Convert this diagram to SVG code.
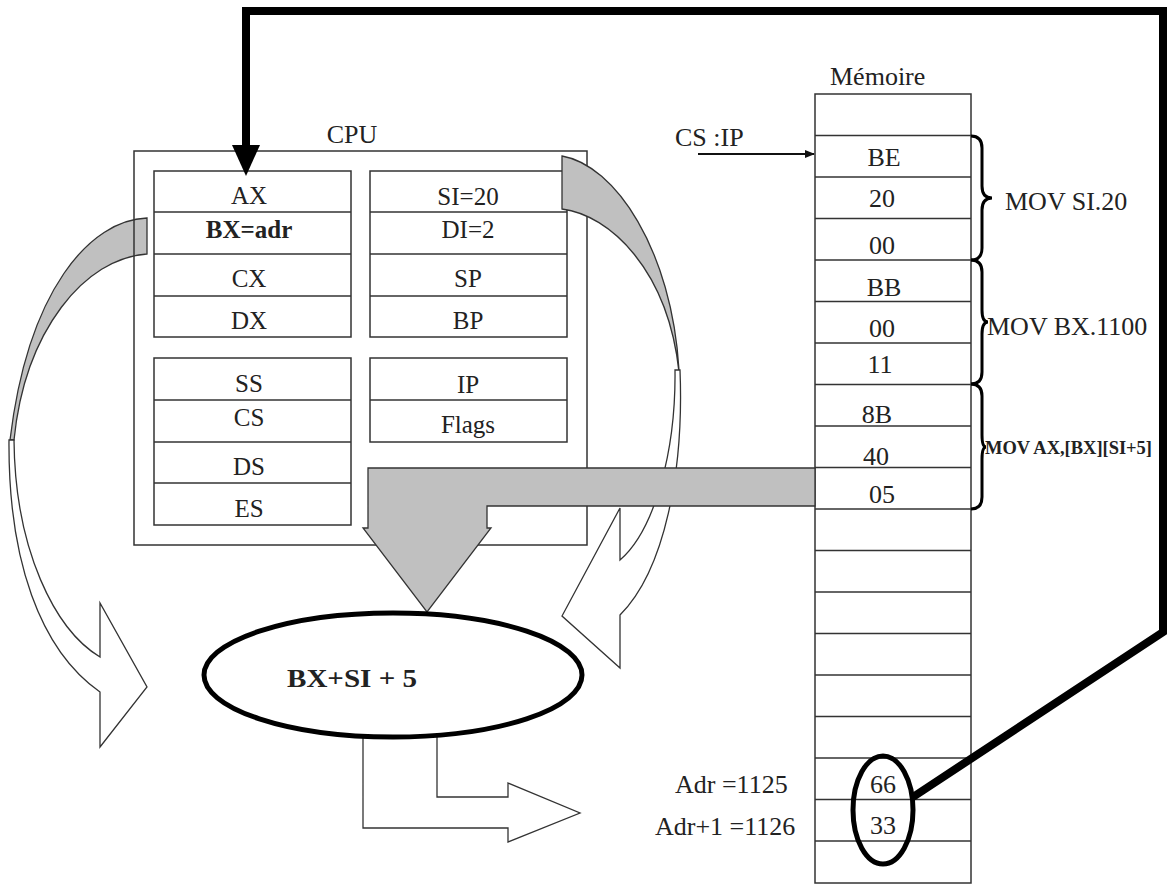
<svg xmlns="http://www.w3.org/2000/svg" width="1170" height="885" viewBox="0 0 1170 885">
<style>
text{font-family:"Liberation Serif","Times New Roman",serif;font-size:26px;fill:#222}
.r{font-size:25px}
.c{text-anchor:middle}
.b{font-weight:bold}
.box{fill:none;stroke:#333;stroke-width:1.5}
.cell{fill:#fff;stroke:#333;stroke-width:1.5}
.gray{fill:#c0c0c0;stroke:#333;stroke-width:1.3}
.wh{fill:#fff;stroke:#333;stroke-width:1.3}
.thick{fill:none;stroke:#000;stroke-width:8;stroke-linejoin:miter}
.brace{fill:none;stroke:#000;stroke-width:3}
</style>
<defs>
<marker id="ah" markerWidth="10" markerHeight="8" refX="9" refY="4" orient="auto" markerUnits="userSpaceOnUse">
<path d="M0,0 L10,4 L0,8 Z" fill="#111"/>
</marker>
</defs>
<rect width="1170" height="885" fill="#fff"/>

<g id="curved-left">
<path class="gray" d="M147,218 C90,220 28,290 10,440 L14,440 C25,330 85,258 147,254 Z"/>
<path class="wh" d="M9,440 C8,560 40,650 100,692 L100,747 L147,687 L100,603 L100,657 C55,630 15,550 14,440 Z"/>
</g>

<g id="cpu">
<rect class="box" x="134" y="151" width="453" height="394"/>
<text class="c" x="352" y="143">CPU</text>
<g id="reg-left-1">
<rect class="cell" x="154" y="171" width="197" height="166"/>
<line class="box" x1="154" y1="212" x2="351" y2="212"/>
<line class="box" x1="154" y1="254" x2="351" y2="254"/>
<line class="box" x1="154" y1="296" x2="351" y2="296"/>
<text class="c r" x="249" y="204">AX</text>
<text class="c r b" x="249" y="238">BX=adr</text>
<text class="c r" x="249" y="287">CX</text>
<text class="c r" x="249" y="329">DX</text>
</g>
<g id="reg-right-1">
<rect class="cell" x="370" y="171" width="197" height="166"/>
<line class="box" x1="370" y1="212" x2="567" y2="212"/>
<line class="box" x1="370" y1="254" x2="567" y2="254"/>
<line class="box" x1="370" y1="296" x2="567" y2="296"/>
<text class="c r" x="468" y="205">SI=20</text>
<text class="c r" x="468" y="238">DI=2</text>
<text class="c r" x="468" y="287">SP</text>
<text class="c r" x="468" y="329">BP</text>
</g>
<g id="reg-left-2">
<rect class="cell" x="154" y="358" width="197" height="167"/>
<line class="box" x1="154" y1="400" x2="351" y2="400"/>
<line class="box" x1="154" y1="442" x2="351" y2="442"/>
<line class="box" x1="154" y1="483" x2="351" y2="483"/>
<text class="c r" x="249" y="392">SS</text>
<text class="c r" x="249" y="426">CS</text>
<text class="c r" x="249" y="475">DS</text>
<text class="c r" x="249" y="517">ES</text>
</g>
<g id="reg-right-2">
<rect class="cell" x="370" y="358" width="197" height="84"/>
<line class="box" x1="370" y1="400" x2="567" y2="400"/>
<text class="c r" x="468" y="393">IP</text>
<text class="c r" x="468" y="433">Flags</text>
</g>
</g>

<g id="curved-right">
<path class="gray" d="M562,156 C615,165 672,250 679,370 L679,372 C668,270 610,215 562,209 Z"/>
<path class="wh" d="M680,370 C684,470 665,570 620,615 L620,668 L562,616 L620,508 L620,560 C655,530 676,450 675,370 Z"/>
</g>

<g id="memory">
<text x="830" y="85">Mémoire</text>
<rect class="cell" x="815" y="94" width="156" height="789"/>
<g class="box">
<line x1="815" y1="135.5" x2="971" y2="135.5"/>
<line x1="815" y1="177" x2="971" y2="177"/>
<line x1="815" y1="218.5" x2="971" y2="218.5"/>
<line x1="815" y1="260" x2="971" y2="260"/>
<line x1="815" y1="301.5" x2="971" y2="301.5"/>
<line x1="815" y1="343" x2="971" y2="343"/>
<line x1="815" y1="384.5" x2="971" y2="384.5"/>
<line x1="815" y1="426" x2="971" y2="426"/>
<line x1="815" y1="467.5" x2="971" y2="467.5"/>
<line x1="815" y1="509" x2="971" y2="509"/>
<line x1="815" y1="550.5" x2="971" y2="550.5"/>
<line x1="815" y1="592" x2="971" y2="592"/>
<line x1="815" y1="633.5" x2="971" y2="633.5"/>
<line x1="815" y1="675" x2="971" y2="675"/>
<line x1="815" y1="716.5" x2="971" y2="716.5"/>
<line x1="815" y1="758" x2="971" y2="758"/>
<line x1="815" y1="799.5" x2="971" y2="799.5"/>
<line x1="815" y1="841" x2="971" y2="841"/>
</g>
<text class="c" x="884" y="166">BE</text>
<text class="c" x="882" y="207">20</text>
<text class="c" x="882" y="254">00</text>
<text class="c" x="884" y="296">BB</text>
<text class="c" x="882" y="337">00</text>
<text class="c" x="880" y="373">11</text>
<text class="c" x="877" y="423">8B</text>
<text class="c" x="876" y="465">40</text>
<text class="c" x="882" y="503">05</text>
<text class="c" x="883" y="793">66</text>
<text class="c" x="883" y="834">33</text>
<ellipse cx="883" cy="810" rx="30" ry="54" fill="none" stroke="#000" stroke-width="5"/>
<text x="675" y="793">Adr =1125</text>
<text x="655" y="835">Adr+1 =1126</text>
</g>

<g id="instructions">
<path class="brace" d="M971,136 Q982,136 982,148 L982,186 Q982,198 992,198 Q982,198 982,210 L982,248 Q982,260 971,260"/>
<path class="brace" d="M971,260 Q982,260 982,272 L982,310 Q982,322 988,322 Q982,322 982,334 L982,372 Q982,384 971,384"/>
<path class="brace" d="M971,384 Q982,384 982,396 L982,435 Q982,447 986,447 Q982,447 982,459 L982,497 Q982,509 971,509"/>
<text x="1005" y="210">MOV SI.20</text>
<text x="987" y="335">MOV BX.1100</text>
<text class="b" x="985" y="454" style="font-size:18px" textLength="167" lengthAdjust="spacingAndGlyphs">MOV AX,[BX][SI+5]</text>
</g>

<g id="connectors">
<line x1="698" y1="154" x2="814" y2="154" stroke="#111" stroke-width="2" marker-end="url(#ah)"/>
<text x="675" y="146">CS :IP</text>
<path class="gray" d="M815,468 L368,468 L368,528 L363,528 L427,612 L491,528 L487,528 L487,506 L815,506 Z"/>
<path class="wh" d="M363,735 L363,828 L508,828 L508,842 L580,813 L508,783 L508,797 L437,797 L437,735 Z"/>
<path class="thick" d="M913,797 L1163,632 L1163,11 L246,11 L246,147"/>
<polygon points="232,145 260,145 246,176" fill="#000"/>
</g>

<g id="address-calc">
<ellipse cx="393" cy="675" rx="189" ry="62" fill="#fff" stroke="#000" stroke-width="5"/>
<text class="b" x="287" y="687" textLength="130" lengthAdjust="spacingAndGlyphs">BX+SI + 5</text>
</g>
</svg>
